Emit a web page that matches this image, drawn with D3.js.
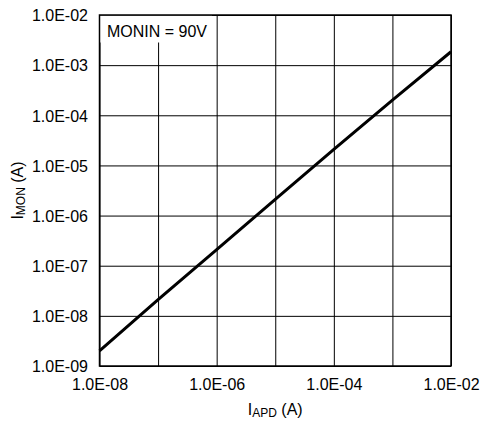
<!DOCTYPE html>
<html>
<head>
<meta charset="utf-8">
<script src="https://cdn.jsdelivr.net/npm/d3@7"></script>
<style>
	body { margin: 0; background: #fff; }
	svg text { font-family: "Liberation Sans", Arial, sans-serif; font-size: 16px; fill: #000; }
	.axis path { display: none; }
	.axis line { stroke: #000; stroke-width: 1; }
</style>
</head>
<body>
<div id="graphic"></div>
<script>
// decades used for grid and labels
const xTicks = [1e-8, 1e-7, 1e-6, 1e-5, 1e-4, 1e-3, 1e-2];
const xLabelled = [1e-8, 1e-6, 1e-4, 1e-2];
const yTicks = [1e-9, 1e-8, 1e-7, 1e-6, 1e-5, 1e-4, 1e-3, 1e-2];

// series
const iApd = [1e-8, 1e-7, 1e-6, 1e-5, 1e-4, 1e-3, 1e-2];
const iMon = [2.0e-9, 2.1e-8, 2.1e-7, 2.1e-6, 2.1e-5, 2.0e-4, 1.85e-3];

const annotation = "MONIN = 90V";

const width = 480, height = 423;
const margin = { top: 15, right: 29, bottom: 57, left: 99.5 };
const chartWidth = width - margin.left - margin.right;
const chartHeight = height - margin.top - margin.bottom;

const fmt = (d) => "1.0E-" + String(Math.round(-Math.log10(d))).padStart(2, "0");

const svg = d3.select('#graphic')
	.append('svg')
	.attr('width', width)
	.attr('height', height);

const g = svg.append('g')
	.attr('transform', 'translate(' + margin.left + ',' + margin.top + ')');

const x = d3.scaleLog().domain([1e-8, 1e-2]).range([0, chartWidth]);
const y = d3.scaleLog().domain([1e-9, 1e-2]).range([chartHeight, 0]);

// x grid + labels
const xAxis = d3.axisBottom(x)
	.tickValues(xTicks)
	.tickSize(-chartHeight)
	.tickPadding(12)
	.tickFormat((d) => xLabelled.includes(d) ? fmt(d) : "");

g.append('g')
	.attr('class', 'x axis')
	.attr('transform', 'translate(0,' + chartHeight + ')')
	.call(xAxis)
	.selectAll('text')
	.attr('dy', '0.74em');

// y grid + labels
const yAxis = d3.axisLeft(y)
	.tickValues(yTicks)
	.tickSize(-chartWidth)
	.tickPadding(11.5)
	.tickFormat(fmt);

g.append('g')
	.attr('class', 'y axis')
	.call(yAxis)
	.selectAll('text')
	.attr('dy', '0.36em');

// annotation box, covers the grid behind the text
const note = g.append('g');
note.append('rect')
	.attr('x', 0.5)
	.attr('y', 0.5)
	.attr('width', 112)
	.attr('height', 27)
	.attr('fill', '#fff');
note.append('text')
	.attr('x', 7.5)
	.attr('y', 22)
	.text(annotation);

// frame
g.append('rect')
	.attr('width', chartWidth)
	.attr('height', chartHeight)
	.attr('fill', 'none')
	.attr('stroke', '#000')
	.attr('stroke-width', 1.5);

// the curve
const line = d3.line()
	.x((d) => x(d[0]))
	.y((d) => y(d[1]));

g.append('path')
	.datum(d3.zip(iApd, iMon))
	.attr('d', line)
	.attr('fill', 'none')
	.attr('stroke', '#000')
	.attr('stroke-width', 3);

// axis titles
const xTitle = svg.append('text')
	.attr('x', margin.left + chartWidth / 2)
	.attr('y', 415)
	.attr('font-size', '18px')
	.attr('text-anchor', 'middle');
xTitle.append('tspan').text('I');
xTitle.append('tspan').attr('font-size', '12px').attr('dy', 1.5).text('APD');
xTitle.append('tspan').attr('dy', -1.5).text(' (A)');

const yTitle = svg.append('text')
	.attr('transform', 'translate(23,' + (margin.top + chartHeight / 2) + ') rotate(-90)')
	.attr('font-size', '17px')
	.attr('text-anchor', 'middle');
yTitle.append('tspan').text('I');
yTitle.append('tspan').attr('font-size', '12px').attr('dy', 2).text('MON');
yTitle.append('tspan').attr('dy', -2).text(' (A)');
</script>
</body>
</html>
